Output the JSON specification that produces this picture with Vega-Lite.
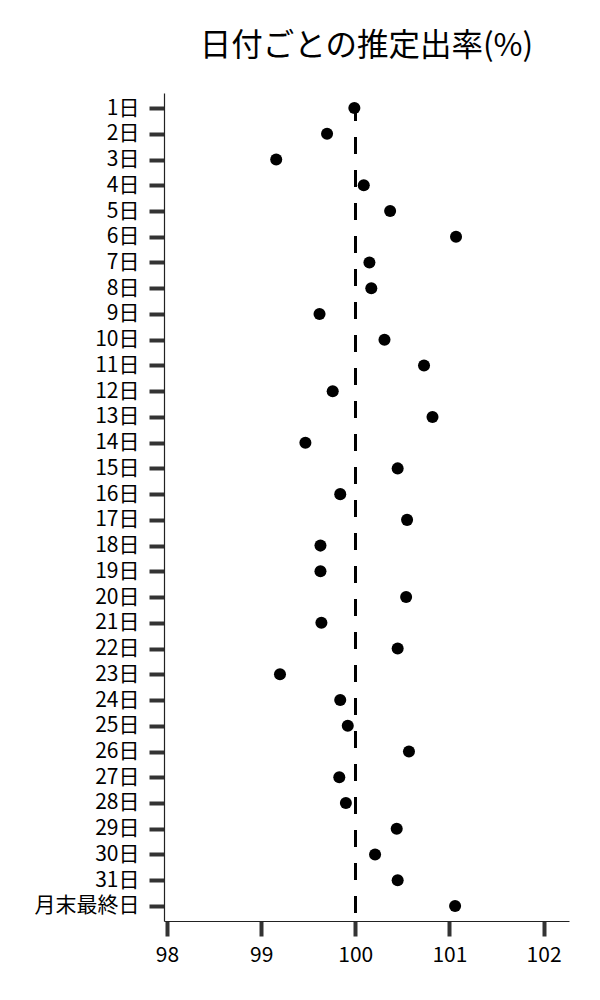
{
  "$schema": "https://vega.github.io/schema/vega-lite/v6.json",
  "autosize": "none",
  "width": 405,
  "height": 828,
  "padding": {"left": 164, "top": 93, "right": 31, "bottom": 79},
  "background": "white",
  "title": {
    "text": "日付ごとの推定出率(%)",
    "font": "Noto Sans CJK JP",
    "fontSize": 31.5,
    "fontWeight": "normal",
    "color": "black",
    "anchor": "middle",
    "offset": 30
  },
  "config": {
    "view": {"stroke": null},
    "axis": {
      "labelFont": "Noto Sans CJK JP",
      "labelFontSize": 21,
      "labelColor": "black",
      "grid": false,
      "title": null,
      "domainColor": "#222222",
      "domainWidth": 1.2,
      "tickColor": "#333333",
      "tickWidth": 4,
      "tickSize": 15
    }
  },
  "data": {
    "values": [
      {"day": "1日", "rate": 99.99},
      {"day": "2日", "rate": 99.70},
      {"day": "3日", "rate": 99.16},
      {"day": "4日", "rate": 100.09},
      {"day": "5日", "rate": 100.37},
      {"day": "6日", "rate": 101.07},
      {"day": "7日", "rate": 100.15},
      {"day": "8日", "rate": 100.17},
      {"day": "9日", "rate": 99.62},
      {"day": "10日", "rate": 100.31},
      {"day": "11日", "rate": 100.73},
      {"day": "12日", "rate": 99.76},
      {"day": "13日", "rate": 100.82},
      {"day": "14日", "rate": 99.47},
      {"day": "15日", "rate": 100.45},
      {"day": "16日", "rate": 99.84},
      {"day": "17日", "rate": 100.55},
      {"day": "18日", "rate": 99.63},
      {"day": "19日", "rate": 99.63},
      {"day": "20日", "rate": 100.54},
      {"day": "21日", "rate": 99.64},
      {"day": "22日", "rate": 100.45},
      {"day": "23日", "rate": 99.20},
      {"day": "24日", "rate": 99.84},
      {"day": "25日", "rate": 99.92},
      {"day": "26日", "rate": 100.57},
      {"day": "27日", "rate": 99.83},
      {"day": "28日", "rate": 99.90},
      {"day": "29日", "rate": 100.44},
      {"day": "30日", "rate": 100.21},
      {"day": "31日", "rate": 100.45},
      {"day": "月末最終日", "rate": 101.06}
    ]
  },
  "layer": [
    {
      "mark": {"type": "rule", "color": "black", "strokeWidth": 2, "strokeDash": [16.5, 16.5], "strokeDashOffset": 21.6},
      "encoding": {
        "x": {"datum": 100, "type": "quantitative"}
      }
    },
    {
      "mark": {"type": "circle", "color": "black", "opacity": 1, "size": 145},
      "encoding": {
        "y": {
          "field": "day",
          "type": "ordinal",
          "sort": null,
          "scale": {"type": "point", "padding": 0.585},
          "axis": {"labelPadding": 10}
        },
        "x": {
          "field": "rate",
          "type": "quantitative",
          "scale": {"domain": [97.968, 102.27], "nice": false, "zero": false},
          "axis": {"values": [98, 99, 100, 101, 102], "format": "d", "labelPadding": 8, "labelFlush": false}
        }
      }
    }
  ]
}
